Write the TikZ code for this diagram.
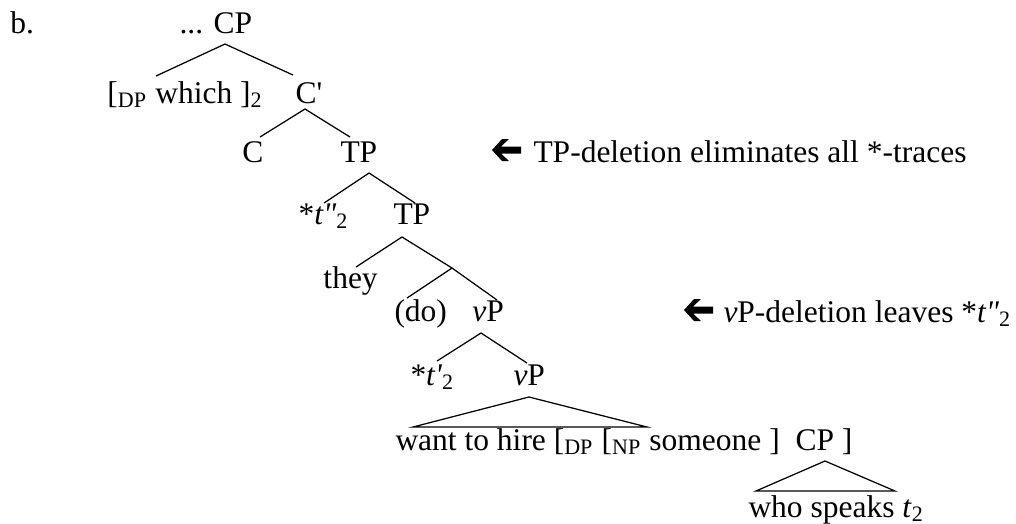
\documentclass[tikz,border=0pt]{standalone}
\usepackage{fontspec}
\setmainfont{Liberation Serif}
\begin{document}
\begin{tikzpicture}[x=0.4pt,y=-0.4pt,
  lbl/.style={anchor=base west,inner sep=0pt,font=\fontsize{12.6}{15}\selectfont},
  branch/.style={line width=0.5pt},
  larrow/.pic={\fill (0,0) -- (10,-11) -- (17,-11) -- (9,-3.5) -- (29,-3.5) -- (29,3.5) -- (9,3.5) -- (17,11) -- (10,11) -- cycle;}]
\useasboundingbox (0,0) rectangle (1016,523);
% labels
\node[lbl] (ex) at (10,33) {b.};
\node[lbl] (cp) at (179,33) {... CP};
\node[lbl] (which) at (107,103) {[\textsubscript{DP} which ]\textsubscript{2}};
\node[lbl] (cbar) at (295,103) {C\textquotesingle};
\node[lbl] (c) at (242,162) {C};
\node[lbl] (tp) at (340,162) {TP};
\node[lbl] (t2) at (298,224) {*\textit{t\textquotedbl}\textsubscript{2}};
\node[lbl] (tpb) at (393,224) {TP};
\node[lbl] (they) at (323,288) {they};
\node[lbl] (do) at (394,321) {(do)};
\node[lbl] (vp) at (472,321) {\textit{v}P};
\node[lbl] (t1) at (410,385) {*\textit{t\textquotesingle}\textsubscript{2}};
\node[lbl] (vpb) at (513,385) {\textit{v}P};
\node[lbl] (want) at (395,450) {want to hire [\textsubscript{DP} [\textsubscript{NP} someone ]\ \ CP ]};
\node[lbl] (who) at (748,517) {who speaks \textit{t}\textsubscript{2}};
\node[lbl] (note1) at (533,162) {TP-deletion eliminates all *-traces};
\node[lbl] (note2) at (723,322) {\textit{v}P-deletion leaves *\textit{t\textquotedbl}\textsubscript{2}};
\pic at (492,150) {larrow};
\pic at (684,310) {larrow};
% branch points
\coordinate (cpA) at (225,44);   \coordinate (whichT) at (156,76); \coordinate (cbarT) at (293,75);
\coordinate (cbarA) at (305,109); \coordinate (cT) at (260,137);   \coordinate (tpT) at (350,137);
\coordinate (tpA) at (369,173);  \coordinate (t2T) at (324,203);   \coordinate (tpbT) at (415,203);
\coordinate (tpbA) at (402,237); \coordinate (theyT) at (356,267); \coordinate (xA) at (452,268);
\coordinate (doT) at (407,298);  \coordinate (vpT) at (497,300);
\coordinate (vpA) at (481,333);  \coordinate (t1T) at (437,361);   \coordinate (vpbT) at (527,363);
\coordinate (vpbA) at (529,397); \coordinate (wantL) at (413,427); \coordinate (wantR) at (647,427);
\coordinate (cpsA) at (825,461); \coordinate (whoL) at (756,491);  \coordinate (whoR) at (895,491);
\draw[branch] (whichT) -- (cpA) -- (cbarT);
\draw[branch] (cT) -- (cbarA) -- (tpT);
\draw[branch] (t2T) -- (tpA) -- (tpbT);
\draw[branch] (theyT) -- (tpbA) -- (xA);
\draw[branch] (doT) -- (xA) -- (vpT);
\draw[branch] (t1T) -- (vpA) -- (vpbT);
\draw[branch] (wantL) -- (vpbA) -- (wantR) -- cycle;
\draw[branch] (whoL) -- (cpsA) -- (whoR) -- cycle;
\end{tikzpicture}
\end{document}
